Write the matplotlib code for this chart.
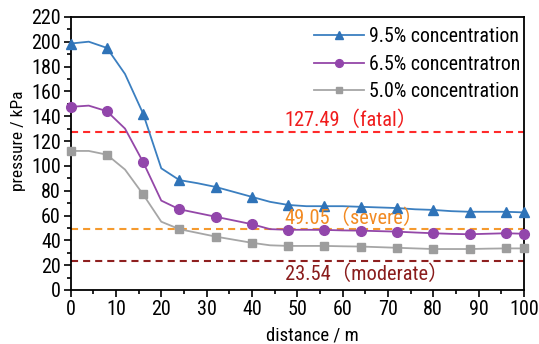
import matplotlib

matplotlib.use("Agg")
import matplotlib.pyplot as plt
from matplotlib.ticker import MultipleLocator

FONT = ["Liberation Sans Narrow", "Roboto Condensed", "Open Sans Condensed",
        "Liberation Sans", "Noto Sans CJK SC"]
plt.rcParams["font.family"] = FONT

# distance along the roadway (m), sampled every 4 m; markers every 8 m
distance = [0, 4, 8, 12, 16, 20, 24, 28, 32, 36, 40, 44, 48, 52, 56,
            60, 64, 68, 72, 76, 80, 84, 88, 92, 96, 100]

p_95 = [198.5, 200, 195, 174, 142, 98, 88.5, 86, 83, 79, 75, 71, 68.5, 67.5, 67.5,
        67.5, 67, 66.5, 66, 65, 64.5, 63.5, 63, 63, 63, 62.5]
p_65 = [147.5, 148.5, 144, 130, 103, 72, 65, 62, 59, 56, 53, 49, 48.5, 48.5, 48.4,
        48, 47.8, 47.4, 47, 46.3, 45.7, 45.2, 44.9, 45.3, 45.7, 45.3]
p_50 = [112, 112, 109, 97, 77, 55, 49, 46, 43, 40.5, 38, 36, 35.5, 35.5, 35.5,
        35.2, 35, 34.5, 34, 33.5, 33, 33, 33, 33.3, 33.5, 33.5]

series_labels = ["9.5% concentration", "6.5% concentratron", "5.0% concentration"]

# injury thresholds (kPa)
thresholds = [127.49, 49.05, 23.54]
threshold_names = ["fatal", "severe", "moderate"]

marks = [0, 2, 4, 6, 8, 10, 12, 14, 16, 18, 20, 22, 24, 25]

LINE_C = ["#3b7fc0", "#9447a8", "#a6a6a6"]
MARK_C = ["#2f73b8", "#9246ab", "#9d9d9d"]
MARKERS = ["^", "o", "s"]
MSIZE = [7, 7, 6]
THR_C = ["#ff2a2a", "#f59a2e", "#8e1f1f"]
THR_TXT = ["#f01c1c", "#f28a22", "#8a1c1c"]
THR_TXT_Y = [137, 58, 13]

fig = plt.figure(figsize=(5.39, 3.44), dpi=100, facecolor="white")
ax = fig.add_axes((0.131, 0.157, 0.841, 0.794))

for vals, lab, lc, mc, mk, ms in zip([p_95, p_65, p_50], series_labels,
                                     LINE_C, MARK_C, MARKERS, MSIZE):
    ax.plot(distance, vals, color=lc, lw=1.3, marker=mk, markersize=ms,
            markerfacecolor=mc, markeredgecolor=mc, markevery=marks,
            label=lab, zorder=3, clip_on=False)

for val, name, c, tc, ty in zip(thresholds, threshold_names, THR_C, THR_TXT, THR_TXT_Y):
    ax.axhline(val, color=c, lw=1.5, dashes=(3.4, 2.4), zorder=2)
    ax.text(47.2, ty, f"{val:.2f}（{name}）", color=tc, fontsize=14.7,
            ha="left", va="center", family=FONT, zorder=4)

ax.set_xlim(0, 100)
ax.set_ylim(0, 220)
ax.xaxis.set_major_locator(MultipleLocator(10))
ax.xaxis.set_minor_locator(MultipleLocator(5))
ax.yaxis.set_major_locator(MultipleLocator(20))
ax.yaxis.set_minor_locator(MultipleLocator(10))
ax.tick_params(which="both", direction="out", top=False, right=False,
               width=1.2, labelsize=14.5, pad=2)
ax.tick_params(which="major", length=5)
ax.tick_params(which="minor", length=3)
for sp in ax.spines.values():
    sp.set_linewidth(1.3)

ax.set_xlabel("distance / m", fontsize=13.5)
ax.set_ylabel("pressure / kPa", fontsize=12.5)
ax.xaxis.set_label_coords(0.534, -0.132)
ax.yaxis.set_label_coords(-0.098, 0.546)

ax.legend(loc="upper right", bbox_to_anchor=(0.991, 0.962), frameon=False,
          fontsize=14.3, handlelength=2.5, handletextpad=0.25, labelspacing=0.43,
          borderaxespad=0, borderpad=0, markerscale=0.8)

fig.savefig("out.png", dpi=100, facecolor="white")
